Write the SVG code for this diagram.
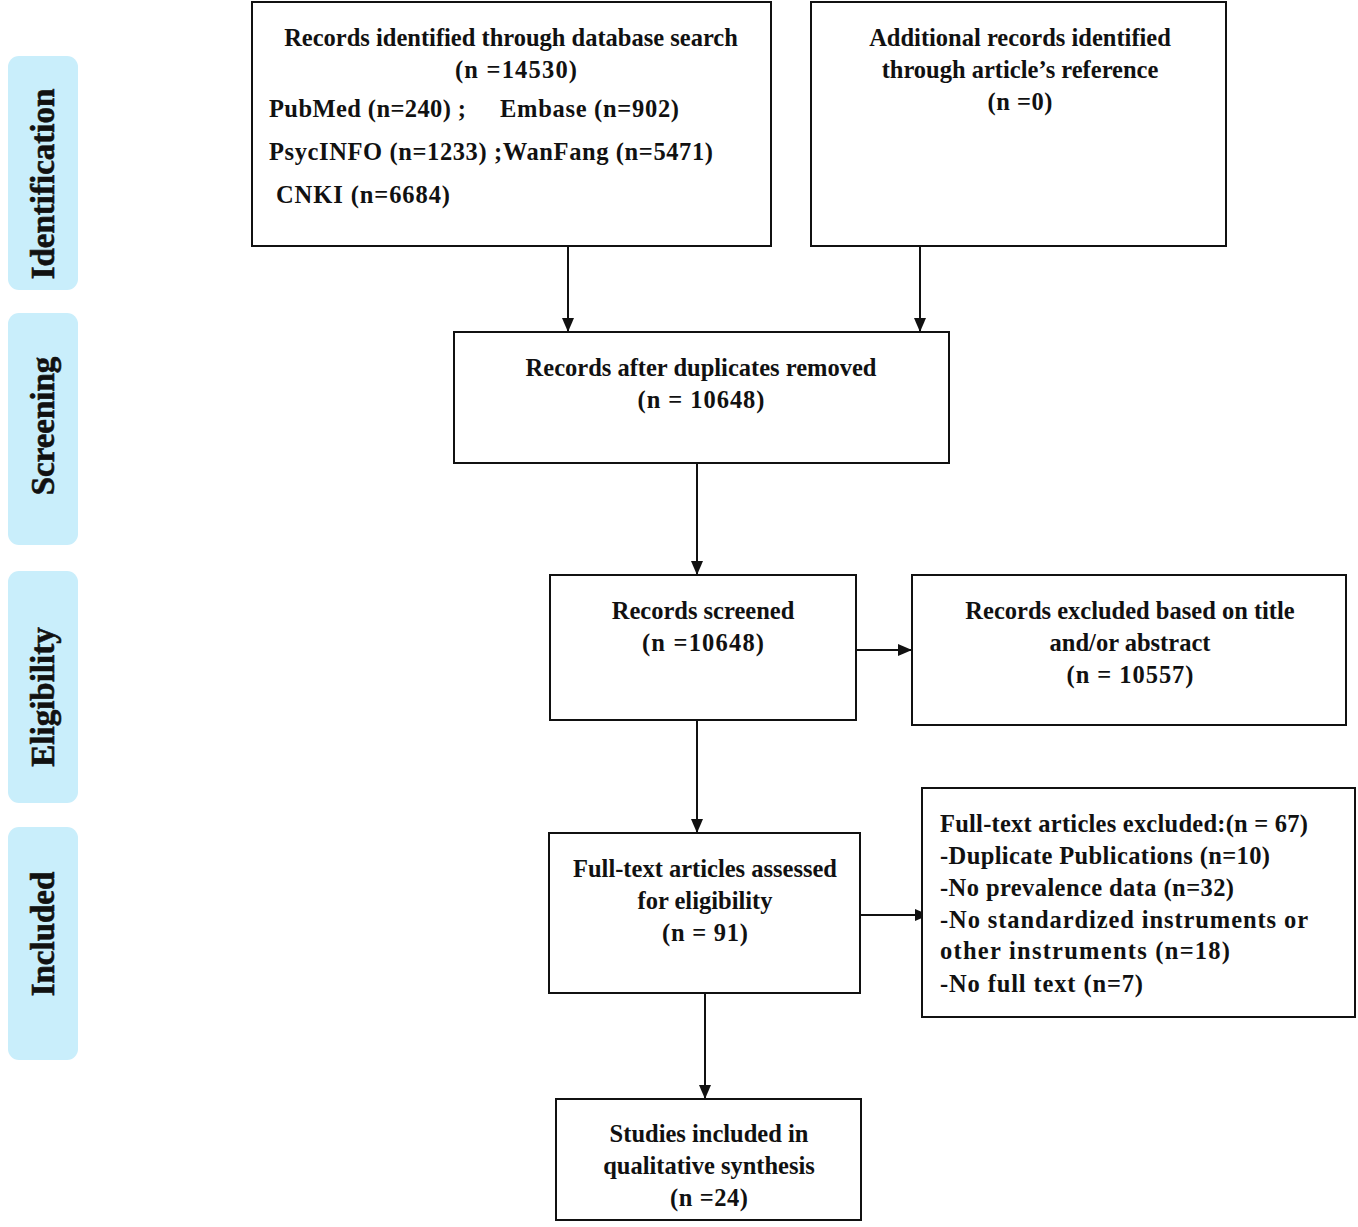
<svg xmlns="http://www.w3.org/2000/svg" width="1358" height="1227" viewBox="0 0 1358 1227">
<style>
.bg{fill:#ffffff}
.phase{fill:#c9eefb;stroke:none}
.ph{font-family:"Liberation Serif","Times New Roman",serif;font-weight:bold;font-size:33px;fill:#111;text-anchor:middle;stroke:#111;stroke-width:0.6}
.box{fill:#ffffff;stroke:#111;stroke-width:2}
.t{font-family:"Liberation Serif","Times New Roman",serif;font-weight:bold;font-size:24.5px;fill:#111}
.c{text-anchor:middle}
.conn{stroke:#111;stroke-width:2;fill:none;marker-end:url(#ah)}
</style>
<defs>
<marker id="ah" viewBox="0 0 14 12" refX="14" refY="6" markerWidth="14" markerHeight="12" markerUnits="userSpaceOnUse" orient="auto">
<path d="M0,0 L14,6 L0,12 Z" fill="#111"/>
</marker>
</defs>
<rect class="bg" x="0" y="0" width="1358" height="1227"/>

<g id="phase-identification">
<rect class="phase" x="8" y="56" width="70" height="234" rx="11"/>
<text class="ph" transform="translate(54,184) rotate(-90)">Identification</text>
</g>
<g id="phase-screening">
<rect class="phase" x="8" y="313" width="70" height="232" rx="11"/>
<text class="ph" transform="translate(54,426) rotate(-90)">Screening</text>
</g>
<g id="phase-eligibility">
<rect class="phase" x="8" y="571" width="70" height="232" rx="11"/>
<text class="ph" transform="translate(54,697) rotate(-90)">Eligibility</text>
</g>
<g id="phase-included">
<rect class="phase" x="8" y="827" width="70" height="233" rx="11"/>
<text class="ph" transform="translate(54,934) rotate(-90)">Included</text>
</g>

<g id="connectors">
<line class="conn" x1="568" y1="246" x2="568" y2="332"/>
<line class="conn" x1="920" y1="246" x2="920" y2="332"/>
<line class="conn" x1="697" y1="463" x2="697" y2="575"/>
<line class="conn" x1="856" y1="650" x2="912" y2="650"/>
<line class="conn" x1="697" y1="720" x2="697" y2="833"/>
<line class="conn" x1="860" y1="915" x2="929" y2="915"/>
<line class="conn" x1="705" y1="993" x2="705" y2="1099"/>
</g>

<g id="node-database">
<rect class="box" x="252" y="2" width="519" height="244"/>
<text class="t c" x="511" y="46">Records identified through database search</text>
<text class="t c" x="516" y="78" textLength="122">(n =14530)</text>
<text class="t" x="269" y="117" textLength="197">PubMed (n=240) ;</text>
<text class="t" x="500" y="117" textLength="179">Embase (n=902)</text>
<text class="t" x="269" y="160" textLength="444">PsycINFO (n=1233) ;WanFang (n=5471)</text>
<text class="t" x="276" y="203" textLength="174">CNKI (n=6684)</text>
</g>

<g id="node-additional">
<rect class="box" x="811" y="2" width="415" height="244"/>
<text class="t c" x="1020" y="46">Additional records identified</text>
<text class="t c" x="1020" y="78">through article’s reference</text>
<text class="t c" x="1020" y="110" textLength="65">(n =0)</text>
</g>

<g id="node-duplicates">
<rect class="box" x="454" y="332" width="495" height="131"/>
<text class="t c" x="701" y="376">Records after duplicates removed</text>
<text class="t c" x="701" y="408" textLength="127">(n = 10648)</text>
</g>

<g id="node-screened">
<rect class="box" x="550" y="575" width="306" height="145"/>
<text class="t c" x="703" y="619">Records screened</text>
<text class="t c" x="703" y="651" textLength="122">(n =10648)</text>
</g>

<g id="node-excluded-title">
<rect class="box" x="912" y="575" width="434" height="150"/>
<text class="t c" x="1130" y="619">Records excluded based on title</text>
<text class="t c" x="1130" y="651">and/or abstract</text>
<text class="t c" x="1130" y="683" textLength="127">(n = 10557)</text>
</g>

<g id="node-fulltext">
<rect class="box" x="549" y="833" width="311" height="160"/>
<text class="t c" x="705" y="877">Full-text articles assessed</text>
<text class="t c" x="705" y="909">for eligibility</text>
<text class="t c" x="705" y="941" textLength="86">(n = 91)</text>
</g>

<g id="node-fulltext-excluded">
<rect class="box" x="922" y="788" width="433" height="229"/>
<text class="t" x="940" y="832" textLength="368">Full-text articles excluded:(n = 67)</text>
<text class="t" x="940" y="864" textLength="330">-Duplicate Publications (n=10)</text>
<text class="t" x="940" y="896" textLength="294">-No prevalence data (n=32)</text>
<text class="t" x="940" y="928" textLength="368">-No standardized instruments or</text>
<text class="t" x="940" y="959" textLength="290">other instruments (n=18)</text>
<text class="t" x="940" y="992" textLength="203">-No full text (n=7)</text>
</g>

<g id="node-included">
<rect class="box" x="556" y="1099" width="305" height="121"/>
<text class="t c" x="709" y="1142">Studies included in</text>
<text class="t c" x="709" y="1174">qualitative synthesis</text>
<text class="t c" x="709" y="1206" textLength="78">(n =24)</text>
</g>
</svg>
